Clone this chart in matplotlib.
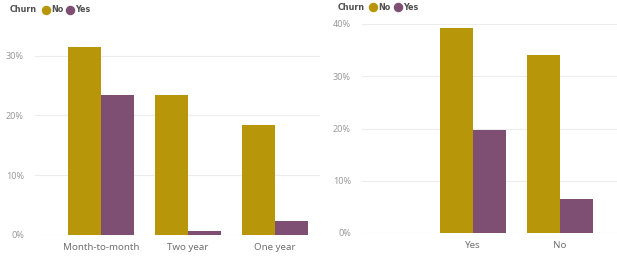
import matplotlib.pyplot as plt
from matplotlib.lines import Line2D
import numpy as np

plt.rcParams['font.family'] = ['Noto Sans', 'DejaVu Sans']

# data (share of customers, %)
contract_labels = ['Month-to-month', 'Two year', 'One year']
contract_no = [31.5, 23.4, 18.4]
contract_yes = [23.4, 0.7, 2.3]

paperless_labels = ['Yes', 'No']
paperless_no = [39.3, 34.1]
paperless_yes = [19.8, 6.6]

series_names = ['No', 'Yes']
colors = ['#B8960A', '#7E4F72']

W, H = 617, 257
fig = plt.figure(figsize=(W / 100, H / 100), dpi=100)


def px_axes(x0, x1, ytop, ybot):
    return fig.add_axes([x0 / W, 1 - ybot / H, (x1 - x0) / W, (ybot - ytop) / H])


def draw(ax, labels, no, yes, ymax, ticks, xlim):
    x = np.arange(len(labels))
    w = 0.38
    ax.bar(x - w / 2, no, w, color=colors[0], zorder=2)
    ax.bar(x + w / 2, yes, w, color=colors[1], zorder=2)
    ax.set_xlim(*xlim)
    ax.set_ylim(0, ymax)
    ax.set_yticks(ticks)
    ax.set_yticklabels([f'{t}%' for t in ticks])
    ax.set_xticks(x)
    ax.set_xticklabels(labels)
    for s in ax.spines.values():
        s.set_visible(False)
    ax.grid(axis='y', color='#ececec', linewidth=0.8, zorder=0)
    ax.tick_params(axis='y', length=0, labelsize=6.5, labelcolor='#9a9a9a', pad=8)
    ax.tick_params(axis='x', length=0, labelsize=7, labelcolor='#707070', pad=6)


ax1 = px_axes(35, 320, 30, 235)
draw(ax1, contract_labels, contract_no, contract_yes, 34.3, [0, 10, 20, 30],
     (-0.759, 2.517))

ax2 = px_axes(362, 617, 24, 233)
draw(ax2, paperless_labels, paperless_no, paperless_yes, 40, [0, 10, 20, 30, 40],
     (-1.276, 1.655))


def legend(x0, yc, circ_x, text_x):
    fig.text(x0 / W, 1 - yc / H, 'Churn', fontsize=5.8, fontweight='bold',
             family='DejaVu Sans', color='#505050', va='center', ha='left')
    for cx, tx, name, c in zip(circ_x, text_x, series_names, colors):
        fig.add_artist(Line2D([cx / W], [1 - yc / H], marker='o', markersize=5.8,
                              color=c, linestyle='none'))
        fig.text(tx / W, 1 - yc / H, name, fontsize=5.8, fontweight='bold',
                 family='DejaVu Sans', color='#505050', va='center', ha='left')


legend(10, 10, [46, 70], [51, 75])
legend(338, 7, [373, 398], [378, 403])

fig.savefig('out.png', dpi=100)
